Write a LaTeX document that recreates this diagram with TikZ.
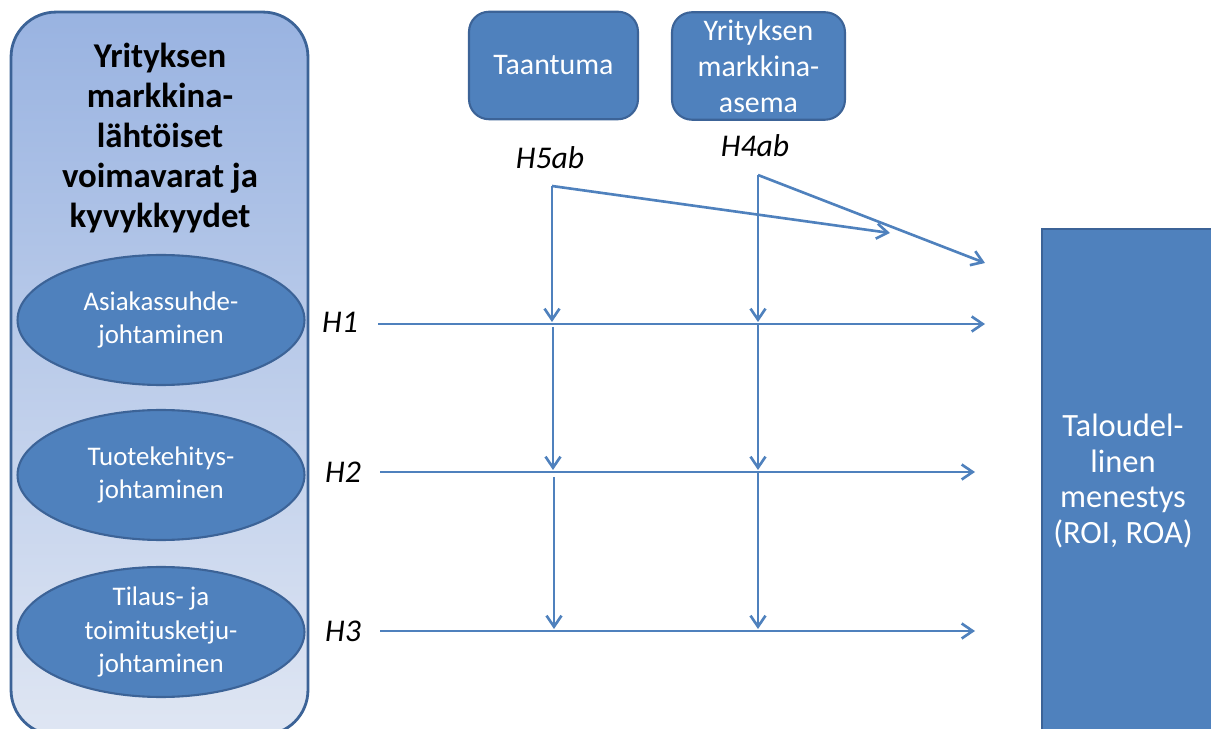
\documentclass[tikz,border=0pt]{standalone}
\usepackage{fontspec}
\setmainfont{Carlito}
\usetikzlibrary{shapes.geometric,arrows.meta}
\definecolor{boxblue}{HTML}{4F81BD}
\definecolor{edgeblue}{HTML}{3C6397}
\definecolor{paneltop}{HTML}{99B3E1}
\definecolor{panelbot}{HTML}{DFE6F3}
\tikzset{
  panel/.style={rectangle,rounded corners=0.9cm,draw=edgeblue,line width=1.6pt,
    top color=paneltop,bottom color=panelbot,minimum width=5.94cm,minimum height=14.46cm},
  factor/.style={ellipse,draw=edgeblue,line width=1.2pt,fill=boxblue,text=white,
    minimum width=5.74cm,minimum height=2.6cm,align=center,inner sep=0pt,
    font=\fontsize{15.3}{19}\selectfont},
  modbox/.style={rectangle,rounded corners=0.4cm,draw=edgeblue,line width=1.2pt,
    fill=boxblue,text=white,minimum height=2.15cm,align=center,inner sep=0pt,
    font=\fontsize{17}{20.4}\selectfont},
  hyp/.style={font=\fontsize{18}{20}\selectfont\itshape},
  link/.style={->,draw=boxblue,line width=1.5pt},
  >={Straight Barb[length=2.2mm,width=3mm]}
}
\begin{document}
\begin{tikzpicture}[x=0.02cm,y=-0.02cm]
  \useasboundingbox (0,0) rectangle (1211,729);
  \clip (0,0) rectangle (1211,729);
  % left panel
  \node[panel](P) at (159.5,373.5) {};
  \node[align=center,font=\fontsize{19.8}{22.7}\selectfont\bfseries](PT) at (160,138)
    {Yrityksen\\markkina-\\lähtöiset\\voimavarat ja\\kyvykkyydet};
  \node[factor](F1) at (161,320) {Asiakassuhde-\\johtaminen};
  \node[factor](F2) at (161,475) {Tuotekehitys-\\johtaminen};
  \node[factor](F3) at (161,632) {Tilaus- ja\\toimitusketju-\\johtaminen};
  % moderators
  \node[modbox,minimum width=3.38cm](M5) at (553.5,65.5) {Taantuma};
  \node[modbox,minimum width=3.46cm](M4) at (758.5,66) {Yrityksen\\markkina-\\asema};
  % result
  \node[rectangle,draw=edgeblue,line width=1.2pt,fill=boxblue,
    minimum width=4cm,minimum height=10.8cm,anchor=north west](R) at (1041,228) {};
  \node[align=center,text=white,font=\fontsize{18.5}{20.4}\selectfont](RT) at (1123,481)
    {Taloudel-\\linen\\menestys\\(ROI, ROA)};
  % hypotheses
  \node[hyp](H5) at (550,158) {H5ab};
  \node[hyp](H4) at (755,146) {H4ab};
  \node[hyp](H1) at (340,322) {H1};
  \node[hyp](H2) at (343,472) {H2};
  \node[hyp](H3) at (343,631) {H3};
  \coordinate(T5) at (552,186);
  \coordinate(T4) at (758,175);
  \coordinate(S1) at (378,324); \coordinate(E1) at (985,324);
  \coordinate(S2) at (380,472); \coordinate(E2) at (975,472);
  \coordinate(S3) at (380,631); \coordinate(E3) at (975,631);
  \coordinate(A1) at (552,322); \coordinate(B1) at (553,327);
  \coordinate(A2) at (553,470); \coordinate(B2) at (554,477);
  \coordinate(A3) at (554,629);
  \coordinate(C1) at (758,322); \coordinate(D1) at (758,324);
  \coordinate(C2) at (758,470); \coordinate(D2) at (758,472);
  \coordinate(C3) at (758,629);
  \coordinate(G5) at (890,233);
  \coordinate(G4) at (985,263);
  \foreach \x/\y in{S1/E1,S2/E2,S3/E3,T5/A1,B1/A2,B2/A3,T4/C1,D1/C2,D2/C3,T5/G5,T4/G4}{
    \draw[link](\x)--(\y);
  }
\end{tikzpicture}
\end{document}
